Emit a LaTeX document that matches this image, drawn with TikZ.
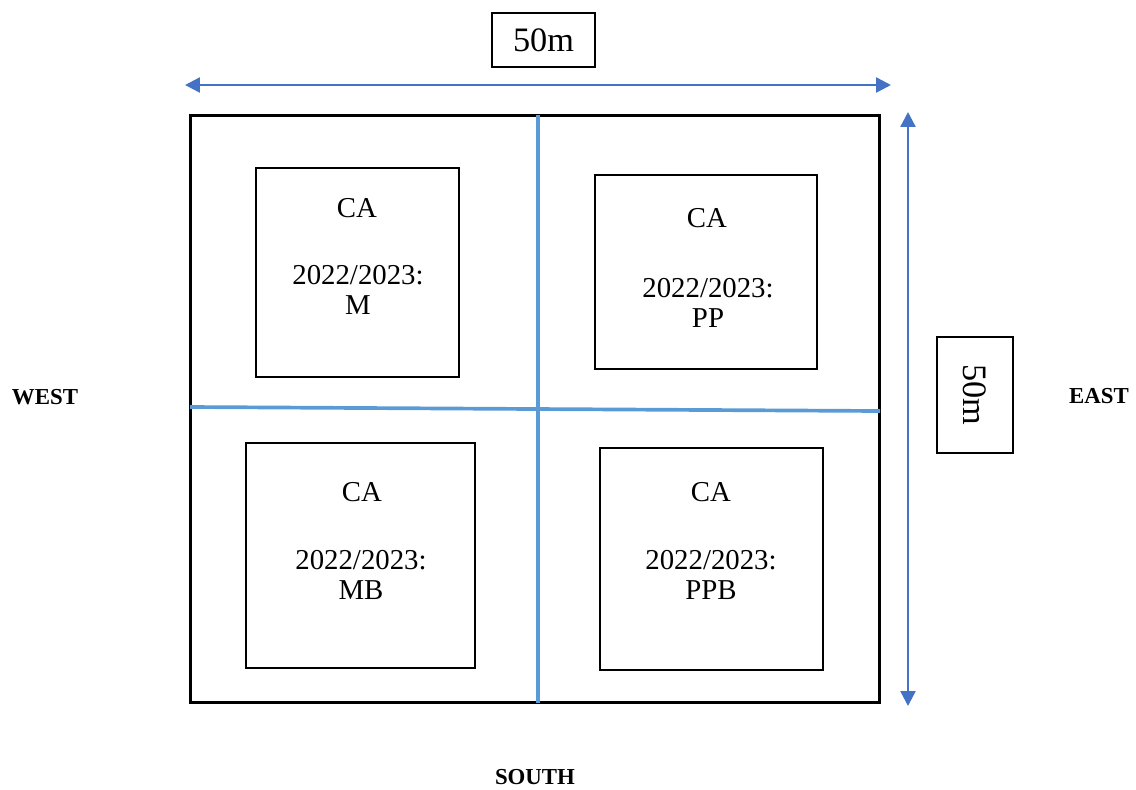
\documentclass[tikz,border=0pt]{standalone}
\usepackage{fontspec}
\setmainfont{Liberation Serif}
\usetikzlibrary{arrows.meta}
\definecolor{gridblue}{RGB}{91,155,213}
\definecolor{arrowblue}{RGB}{68,114,196}
\tikzset{
  plotbox/.style={draw, line width=0.9pt},
  caption/.style={font=\fontsize{16.4}{17}\selectfont, align=center, inner sep=0pt},
  dimlabel/.style={draw, line width=0.8pt, font=\fontsize{19.5}{20}\selectfont},
  compass/.style={font=\fontsize{13}{14}\bfseries\selectfont},
  dimarrow/.style={arrowblue, line width=1.4pt, {Triangle[length=8.5pt,width=8.5pt]}-{Triangle[length=8.5pt,width=8.5pt]}},
}
\begin{document}
\begin{tikzpicture}[x=0.02cm, y=-0.02cm]
  \useasboundingbox (0, 0) rectangle (1136, 789);
  % field and its quarters
  \node[draw, line width=1.7pt, minimum width=13.8cm, minimum height=11.76cm] (field) at (535, 409) {};
  \coordinate (midtop) at (538, 115);
  \coordinate (midbot) at (538, 703);
  \coordinate (midwest) at (190, 407);
  \coordinate (mideast) at (880, 411);
  \draw[gridblue, line width=2.1pt] (midtop) -- (midbot);
  \draw[gridblue, line width=2.1pt] (midwest) -- (mideast);
  % plots
  \node[plotbox, minimum width=4.06cm, minimum height=4.18cm] (plotm) at (357.5, 272.5) {};
  \node[plotbox, minimum width=4.44cm, minimum height=3.88cm] (plotpp) at (706, 272) {};
  \node[plotbox, minimum width=4.58cm, minimum height=4.5cm] (plotmb) at (360.5, 555.5) {};
  \node[plotbox, minimum width=4.46cm, minimum height=4.44cm] (plotppb) at (711.5, 559) {};
  \node[caption] (cam) at (357, 208) {CA};
  \node[caption] (yearm) at (358, 290) {2022/2023:\\M};
  \node[caption] (capp) at (707, 218) {CA};
  \node[caption] (yearpp) at (708, 303) {2022/2023:\\PP};
  \node[caption] (camb) at (362, 492) {CA};
  \node[caption] (yearmb) at (361, 575) {2022/2023:\\MB};
  \node[caption] (cappb) at (711, 492) {CA};
  \node[caption] (yearppb) at (711, 575) {2022/2023:\\PPB};
  % dimensions
  \coordinate (topleft) at (185, 85);
  \coordinate (topright) at (891, 85);
  \draw[dimarrow] (topleft) -- (topright);
  \node[dimlabel, minimum width=2.06cm, minimum height=1.08cm] (width) at (543.5, 40) {50m};
  \coordinate (sidetop) at (908, 112);
  \coordinate (sidebot) at (908, 706);
  \draw[dimarrow] (sidetop) -- (sidebot);
  \node[dimlabel, rotate=-90, minimum width=2.32cm, minimum height=1.52cm] (height) at (975, 395) {50m};
  % compass
  \node[compass] (west) at (45, 397) {WEST};
  \node[compass] (east) at (1099, 396) {EAST};
  \node[compass] (south) at (535, 777) {SOUTH};
\end{tikzpicture}
\end{document}
